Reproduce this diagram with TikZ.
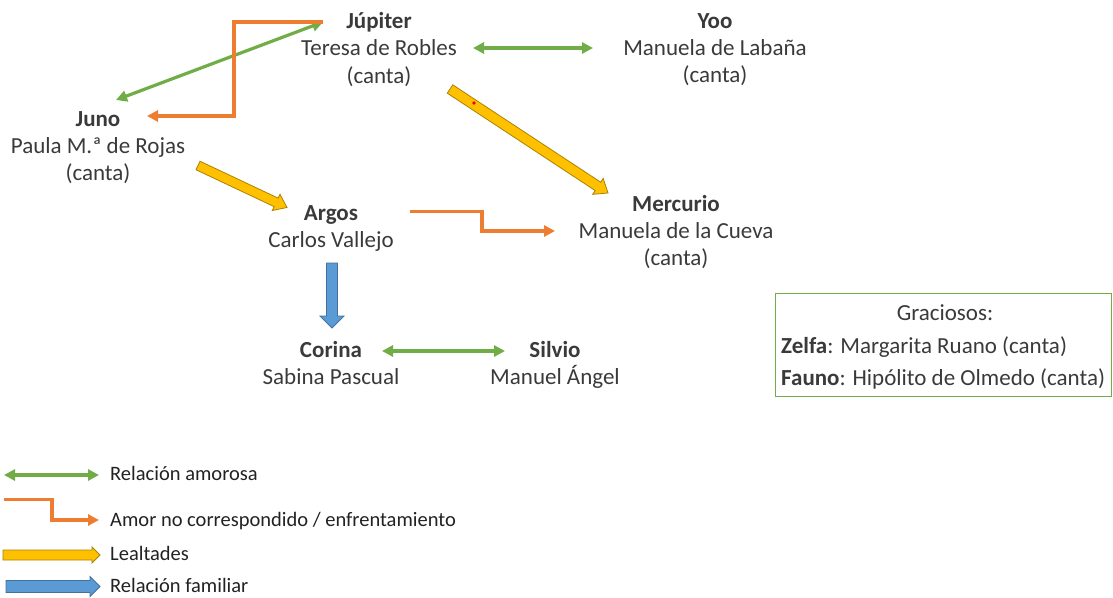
\documentclass[tikz,border=0pt]{standalone}
\usepackage{fontspec}
\setmainfont{Carlito}
\usetikzlibrary{calc,arrows.meta}

\definecolor{ink}{HTML}{3A3A3A}
\definecolor{legendink}{HTML}{222222}
\definecolor{love}{HTML}{70AD47}
\definecolor{rival}{HTML}{ED7D31}
\definecolor{loyal}{HTML}{FFC000}
\definecolor{loyaledge}{HTML}{A98300}
\definecolor{family}{HTML}{5B9BD5}
\definecolor{familyedge}{HTML}{41719C}

\tikzset{
  who/.style={font=\fontsize{23}{27}\selectfont\bfseries, text=ink, inner sep=0pt, anchor=base},
  actor/.style={font=\fontsize{23}{27}\selectfont, text=ink, inner sep=0pt, anchor=base},
  legendtext/.style={font=\fontsize{20.5}{24}\selectfont, text=legendink, inner sep=0pt, anchor=base west},
  lovearrow/.style={draw=love, line width=3.2pt,
    {Triangle[length=11pt,width=11pt]}-{Triangle[length=11pt,width=11pt]}},
  rivalarrow/.style={draw=rival, line width=3.2pt, line join=miter,
    -{Triangle[length=11pt,width=11pt]}},
  loyalblock/.style={fill=loyal, draw=loyaledge, line width=0.8pt, line join=miter},
  familyblock/.style={fill=family, draw=familyedge, line width=0.8pt, line join=miter},
}

% block arrow: from, to, half shaft width, half head width, head length, style
\newcommand\blockarrow[6]{%
  \path[#6] let \p1=($(#2)-(#1)$), \n1={atan2(\y1,\x1)}, \n2={veclen(\x1,\y1)} in
    [shift={(#1)}, rotate=\n1]
    (0pt,{-#3pt}) -- ({\n2-#5pt},{-#3pt}) -- ({\n2-#5pt},{-#4pt}) -- ({\n2+0pt},0pt)
    -- ({\n2-#5pt},{#4pt}) -- ({\n2-#5pt},{#3pt}) -- (0pt,{#3pt}) -- cycle;}

\begin{document}
\begin{tikzpicture}[x=1pt,y=-1pt]
\useasboundingbox (0,0) rectangle (1113,597);

% characters
\node[who]   (jupN)  at (379,28.5)  {Júpiter};
\node[actor] (jupA)  at (379,55.5)  {Teresa de Robles};
\node[actor] (jupC)  at (379,83)    {(canta)};

\node[who]   (yooN)  at (715,28.5)  {Yoo};
\node[actor] (yooA)  at (715,55.5)  {Manuela de Labaña};
\node[actor] (yooC)  at (715,82.5)  {(canta)};

\node[who]   (junoN) at (98,126)    {Juno};
\node[actor] (junoA) at (98,153)    {Paula M.ª de Rojas};
\node[actor] (junoC) at (98,180)    {(canta)};

\node[who]   (argN)  at (331,220)   {Argos};
\node[actor] (argA)  at (331,247)   {Carlos Vallejo};

\node[who]   (merN)  at (676,211)   {Mercurio};
\node[actor] (merA)  at (676,238.5) {Manuela de la Cueva};
\node[actor] (merC)  at (676,265.5) {(canta)};

\node[who]   (corN)  at (331,357)   {Corina};
\node[actor] (corA)  at (331,384)   {Sabina Pascual};

\node[who]   (silN)  at (555,357)   {Silvio};
\node[actor] (silA)  at (555,384)   {Manuel Ángel};

% love relations
\draw[lovearrow] ($(jupN.base)+(-56,-6.5)$) -- ($(junoN.base)+(18,-26)$);
\draw[lovearrow] ($(jupA.base)+(94,-7.5)$) -- ($(yooA.base)+(-122,-7.5)$);
\draw[lovearrow] ($(corN.base)+(51,-6)$) -- ($(silN.base)+(-50,-6)$);

% unrequited love / rivalry
\draw[rivalarrow] ($(jupN.base)+(-56,-6.5)$) -- ++(-89,0) |- ($(junoN.base)+(49,-10)$);
\draw[rivalarrow] ($(argN.base)+(79,-8.5)$) -- ++(72,0) |- ($(merA.base)+(-121,-7.5)$);

% loyalties
\coordinate (jm1) at ($(jupC.base)+(71,6)$);
\coordinate (jm2) at ($(merN.base)+(-68,-18)$);
\blockarrow{jm1}{jm2}{5}{9.5}{12}{loyalblock}
\fill[red] ($(jm1)+(24,14)$) circle (1.8);

\coordinate (ja1) at ($(junoA.base)+(100,12.5)$);
\coordinate (ja2) at ($(argN.base)+(-44,-12.5)$);
\blockarrow{ja1}{ja2}{4.7}{9}{12}{loyalblock}

% family
\coordinate (ac1) at ($(argA.base)+(1,16)$);
\coordinate (ac2) at ($(corN.base)+(1,-29)$);
\blockarrow{ac1}{ac2}{5.5}{12}{12}{familyblock}

% comic characters
\node[draw=love, line width=0.8pt, minimum width=335.5pt, minimum height=102.5pt,
      inner sep=0pt, anchor=north west] (gbox) at (775,293) {};
\node[actor] (gTitle) at (945,320) {Graciosos:};
\node[actor, anchor=base west] (gZelfa) at (781,353.3) {\textbf{Zelfa}: Margarita Ruano (canta)};
\node[actor, anchor=base west] (gFauno) at (781,385) {\textbf{Fauno}: Hipólito de Olmedo (canta)};

% legend
\node[legendtext] (lg1) at (110,480)   {Relación amorosa};
\node[legendtext] (lg2) at (110,526.5) {Amor no correspondido / enfrentamiento};
\node[legendtext] (lg3) at (110,560)   {Lealtades};
\node[legendtext] (lg4) at (110,592.5) {Relación familiar};

\draw[lovearrow] ($(lg1.base west)+(-106,-5)$) -- ($(lg1.base west)+(-11,-5)$);
\draw[rivalarrow] ($(lg2.base west)+(-106,-27)$) -- ++(48,0) |- ($(lg2.base west)+(-11,-6.5)$);
\coordinate (l3a) at ($(lg3.base west)+(-107,-5)$);
\coordinate (l3b) at ($(lg3.base west)+(-10,-5)$);
\blockarrow{l3a}{l3b}{5}{8}{8}{loyalblock}
\coordinate (l4a) at ($(lg4.base west)+(-104,-6)$);
\coordinate (l4b) at ($(lg4.base west)+(-10,-6)$);
\blockarrow{l4a}{l4b}{6}{10}{10}{familyblock}
\end{tikzpicture}
\end{document}
